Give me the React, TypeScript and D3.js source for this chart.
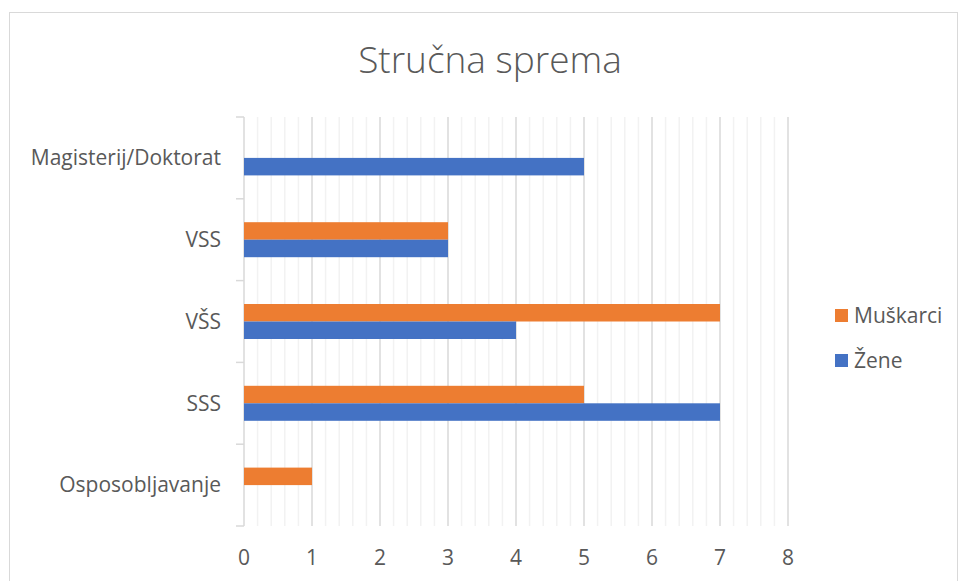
import { useEffect, useRef } from 'react';
import * as d3 from 'd3';

const categories = ['Magisterij/Doktorat', 'VSS', 'VŠS', 'SSS', 'Osposobljavanje'];
const seriesNames = ['Muškarci', 'Žene'];
const muskarci = [0, 3, 7, 5, 1];
const zene = [5, 3, 4, 7, 0];
const xTicks = [0, 1, 2, 3, 4, 5, 6, 7, 8];
const colors = ['#ED7D31', '#4472C4'];

export default function App() {
  const svgRef = useRef<SVGSVGElement>(null);

  useEffect(() => {
    if (!svgRef.current) return;
    const svg = d3.select(svgRef.current);
    svg.selectAll('*').remove();

    const font = "'Open Sans', 'Noto Sans', sans-serif";
    const textColor = '#595959';
    const labelSize = 21;

    // chart frame
    svg.append('rect')
      .attr('x', 9.5).attr('y', 12.5)
      .attr('width', 948).attr('height', 580)
      .attr('fill', '#fff').attr('stroke', '#d9d9d9');

    svg.append('text')
      .attr('x', 490).attr('y', 73)
      .attr('text-anchor', 'middle')
      .attr('font-family', font).attr('font-size', 37)
      .attr('font-weight', 300)
      .attr('fill', textColor)
      .text('Stručna sprema');

    const x = d3.scaleLinear().domain([0, 8]).range([244, 788]);
    const y = d3.scaleBand<string>().domain(categories).range([117, 526]);
    const barH = 17.5;

    // minor gridlines
    const minor = d3.range(0, 8.0001, 0.2).filter((v) => Math.abs(v - Math.round(v)) > 0.01);
    svg.append('g').selectAll('line').data(minor).join('line')
      .attr('x1', (d) => x(d)).attr('x2', (d) => x(d))
      .attr('y1', 117).attr('y2', 526)
      .attr('stroke', '#f2f2f2').attr('stroke-width', 1.5);

    // major gridlines
    svg.append('g').selectAll('line').data(xTicks.slice(1)).join('line')
      .attr('x1', (d) => x(d)).attr('x2', (d) => x(d))
      .attr('y1', 117).attr('y2', 526)
      .attr('stroke', '#d9d9d9').attr('stroke-width', 1.5);

    // category axis
    const yAxis = svg.append('g');
    yAxis.append('line')
      .attr('x1', x(0)).attr('x2', x(0))
      .attr('y1', 117).attr('y2', 526)
      .attr('stroke', '#d9d9d9').attr('stroke-width', 1.5);
    const bounds = categories.map((c) => y(c)!).concat([526]);
    yAxis.selectAll('line.tick').data(bounds).join('line')
      .attr('class', 'tick')
      .attr('x1', x(0) - 8).attr('x2', x(0))
      .attr('y1', (d) => d).attr('y2', (d) => d)
      .attr('stroke', '#d9d9d9').attr('stroke-width', 1.5);

    yAxis.selectAll('text').data(categories).join('text')
      .attr('x', 221)
      .attr('y', (d) => y(d)! + y.bandwidth() / 2)
      .attr('dy', '0.35em')
      .attr('text-anchor', 'end')
      .attr('font-family', font).attr('font-size', labelSize)
      .attr('fill', textColor)
      .text((d) => d);

    // bars
    const series = [muskarci, zene];
    series.forEach((vals, si) => {
      svg.append('g').selectAll('rect').data(categories).join('rect')
        .attr('x', x(0))
        .attr('y', (d) => y(d)! + y.bandwidth() / 2 - barH + si * barH)
        .attr('width', (_d, i) => x(vals[i]) - x(0))
        .attr('height', barH)
        .attr('fill', colors[si]);
    });

    // x tick labels
    svg.append('g').selectAll('text').data(xTicks).join('text')
      .attr('x', (d) => x(d))
      .attr('y', 558)
      .attr('dy', '0.35em')
      .attr('text-anchor', 'middle')
      .attr('font-family', font).attr('font-size', labelSize)
      .attr('fill', textColor)
      .text((d) => d);

    // legend
    const legend = svg.append('g');
    seriesNames.forEach((name, i) => {
      const ly = 316 + i * 45;
      legend.append('rect')
        .attr('x', 835).attr('y', ly - 7)
        .attr('width', 13).attr('height', 13)
        .attr('fill', colors[i]);
      legend.append('text')
        .attr('x', 854).attr('y', ly)
        .attr('dy', '0.35em')
        .attr('font-family', font).attr('font-size', labelSize)
        .attr('fill', textColor)
        .text(name);
    });
  }, []);

  return <svg ref={svgRef} width={959} height={581} style={{ position: 'absolute', left: 0, top: 0 }} />;
}
